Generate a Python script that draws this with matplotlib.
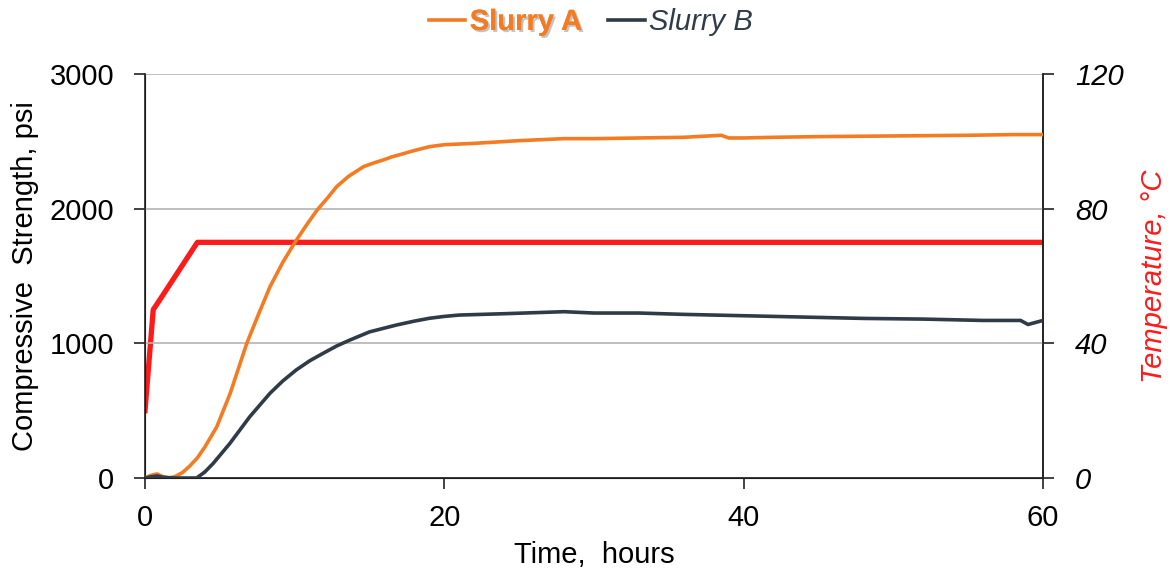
import matplotlib
matplotlib.use("Agg")
import matplotlib.pyplot as plt
import matplotlib.patheffects as pe

plt.rcParams['font.family'] = ['Liberation Sans', 'DejaVu Sans']

# ---- data ----
time_a = [0, 0.4, 0.8, 1.2, 1.6, 2.0, 2.5, 3.0, 3.5, 4.0, 4.8, 5.7, 6.8, 7.6, 8.35,
          9.2, 10.0, 10.8, 11.5, 12.2, 12.8, 13.6, 14.6, 15.3, 15.9, 16.5, 17.0, 18.0,
          19.0, 20.0, 21.0, 22, 25, 28, 30, 33, 36, 38.5, 39, 40, 42, 45, 50, 55, 58, 60]
slurry_a = [0, 20, 30, 10, 0, 10, 40, 90, 150, 230, 381, 631, 1000, 1220, 1420,
            1600, 1747, 1880, 1990, 2080, 2163, 2240, 2312, 2340, 2361, 2385, 2400, 2432,
            2460, 2475, 2480, 2485, 2505, 2520, 2520, 2525, 2530, 2545, 2525, 2525,
            2530, 2535, 2540, 2545, 2550, 2550]

time_b = [0, 0.5, 0.8, 1.2, 2, 3.45, 4.0, 4.56, 5.68, 7.0, 8.35, 9.2, 10.1, 11.0,
          11.9, 12.8, 13.7, 15.0, 16.8, 18.0, 19.0, 20.0, 21, 24, 28, 30, 33, 36, 40,
          44, 48, 52, 56, 58.5, 59, 60]
slurry_b = [0, 10, 15, 5, 0, 0, 45, 109, 258, 455, 629, 720, 802, 870, 926, 980, 1025,
            1085, 1136, 1165, 1186, 1200, 1210, 1220, 1235, 1225, 1225, 1215, 1205,
            1195, 1185, 1180, 1170, 1170, 1140, 1170]

time_t = [0, 0.55, 1.0, 3.5, 60]
temperature = [20, 50, 53, 70, 70]

x_ticks = [0, 20, 40, 60]
y_ticks = [0, 1000, 2000, 3000]
t_ticks = [0, 40, 80, 120]

orange = '#f47b20'
dark = '#2f3b46'
red = '#ff1a1a'

fig = plt.figure(figsize=(11.7, 5.76), dpi=100)
ax = fig.add_axes([145/1170, 98/576, (1043-145)/1170, (478-74)/576])

ax.set_xlim(0, 60)
ax.set_ylim(0, 3000)
ax.set_xticks(x_ticks)
ax.set_yticks(y_ticks)
ax.yaxis.grid(True, color='#b4b4b4', lw=1.2)
ax.set_axisbelow(True)
ax.spines['top'].set_visible(False)
for s in ['left', 'bottom', 'right']:
    ax.spines[s].set_color('#222222')
    ax.spines[s].set_linewidth(1.2)
ax.tick_params(axis='both', direction='out', length=8, width=1.2, labelsize=21,
               color='#222222')
ax.tick_params(axis='y', pad=14)
ax.tick_params(axis='x', pad=11)

la, = ax.plot(time_a, slurry_a, color=orange, lw=2.6, zorder=3, label='Slurry A')
lb, = ax.plot(time_b, slurry_b, color=dark, lw=2.6, zorder=3, label='Slurry B')

ax.set_xlabel('Time,  hours', fontsize=21, labelpad=6)
ax.set_ylabel('Compressive  Strength, psi', fontsize=21, labelpad=8)

ax2 = ax.twinx()
ax2.set_ylim(0, 120)
ax2.set_yticks(t_ticks)
ax2.tick_params(axis='y', direction='out', length=8, width=1.2, labelsize=21,
                color='#222222', pad=15)
for lab in ax2.get_yticklabels():
    lab.set_fontstyle('italic')
ax2.spines['top'].set_visible(False)
ax2.spines['right'].set_color('#222222')
ax2.spines['right'].set_linewidth(1.2)
ax2.plot(time_t, temperature, color=red, lw=3.8, zorder=2)
ax2.set_ylabel('Temperature, °C', fontsize=21, color=red, fontstyle='italic',
               labelpad=12)
ax.set_zorder(ax2.get_zorder() + 1)
ax.patch.set_visible(False)

leg = fig.legend(handles=[la, lb], loc='center', bbox_to_anchor=(0.505, 0.962),
                 ncol=2, frameon=False, fontsize=21, handlelength=1.25,
                 handletextpad=0.15, columnspacing=0.9)
ta, tb = leg.get_texts()
ta.set_color(orange)
ta.set_fontweight('bold')
ta.set_path_effects([pe.withSimplePatchShadow(offset=(1.5, -1.5), alpha=0.35,
                                              shadow_rgbFace='#555555'), pe.Normal()])
tb.set_color(dark)
tb.set_fontstyle('italic')

fig.savefig('out.png', dpi=100)
